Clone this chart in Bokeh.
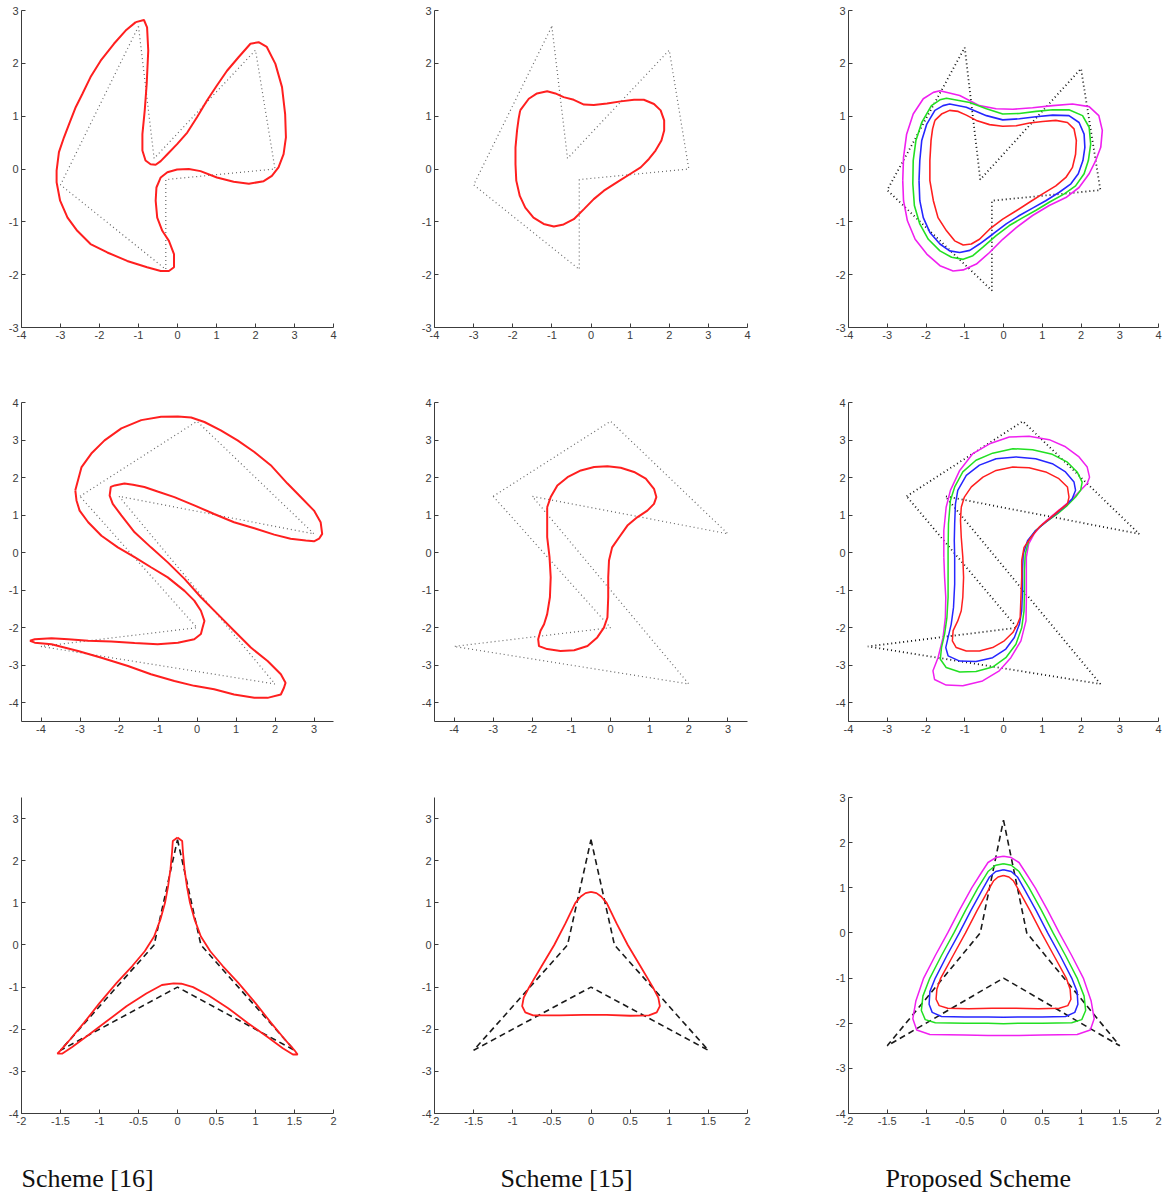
from bokeh.plotting import figure
from bokeh.layouts import column, row
from bokeh.models import FixedTicker, Range1d, Label
from bokeh.embed import file_html
from bokeh.resources import INLINE

# ---------------- data ----------------
SCHEME_LABELS = ["Scheme [16]", "Scheme [15]", "Proposed Scheme"]

# Row 1 control polygons
CTRL_R1 = [(-1, 2.7), (-0.6, 0.2), (2, 2.25), (2.5, 0), (-0.3, -0.2), (-0.3, -1.9), (-3, -0.3)]
CTRL_R1_PROP = [(-1, 2.3), (-0.6, -0.2), (2, 1.9), (2.5, -0.4), (-0.3, -0.6), (-0.3, -2.3), (-3, -0.4)]
# Row 2 control polygons
CTRL_R2 = [(-3, 1.5), (0, 3.5), (3, 0.5), (-2, 1.5), (2, -3.5), (-4, -2.5), (0, -2)]
CTRL_R2_PROP = [(-2.5, 1.5), (0.5, 3.5), (3.5, 0.5), (-1.5, 1.5), (2.5, -3.5), (-3.5, -2.5), (0.35, -2)]
# Row 3 control polygon
CTRL_R3 = [(0, 2.5), (0.3, 0), (1.5, -2.5), (0, -1), (-1.5, -2.5), (-0.3, 0)]

# Row 1 curves
R1_S16 = [(-1.07, 2.78), (-0.86, 2.82), (-0.78, 2.68), (-0.75, 2.24), (-0.79, 1.61), (-0.84, 1.11),
          (-0.90, 0.66), (-0.90, 0.35), (-0.82, 0.16), (-0.69, 0.09), (-0.56, 0.08), (-0.43, 0.15),
          (-0.26, 0.28), (-0.01, 0.47), (0.25, 0.69), (0.50, 0.98), (0.76, 1.30), (1.01, 1.58),
          (1.27, 1.86), (1.57, 2.12), (1.87, 2.37), (2.08, 2.40), (2.29, 2.31), (2.51, 1.99),
          (2.68, 1.55), (2.76, 1.04), (2.78, 0.60), (2.72, 0.28), (2.59, 0.03), (2.42, -0.13),
          (2.21, -0.23), (1.83, -0.28), (1.44, -0.24), (1.01, -0.16), (0.59, -0.04), (0.29, 0.0),
          (-0.01, -0.01), (-0.26, -0.06), (-0.43, -0.16), (-0.54, -0.35), (-0.56, -0.60), (-0.52, -0.92),
          (-0.39, -1.17), (-0.22, -1.36), (-0.09, -1.61), (-0.09, -1.86), (-0.22, -1.93), (-0.43, -1.93),
          (-0.78, -1.86), (-1.29, -1.74), (-1.80, -1.58), (-2.23, -1.42), (-2.57, -1.17), (-2.82, -0.92),
          (-3.01, -0.60), (-3.10, -0.25), (-3.10, -0.03), (-3.04, 0.32), (-2.91, 0.60), (-2.78, 0.85),
          (-2.61, 1.17), (-2.44, 1.42), (-2.23, 1.74), (-1.97, 2.05), (-1.63, 2.37), (-1.33, 2.62)]
R1_S15 = [(-1.81, 1.11), (-1.59, 1.33), (-1.38, 1.43), (-1.12, 1.47), (-0.91, 1.43), (-0.70, 1.36),
          (-0.44, 1.31), (-0.18, 1.22), (0.07, 1.21), (0.41, 1.24), (0.76, 1.28), (1.10, 1.31),
          (1.35, 1.31), (1.61, 1.23), (1.78, 1.11), (1.87, 0.92), (1.87, 0.73), (1.80, 0.54),
          (1.65, 0.35), (1.48, 0.19), (1.27, 0.03), (1.01, -0.09), (0.67, -0.25), (0.33, -0.41),
          (0.07, -0.57), (-0.18, -0.76), (-0.44, -0.95), (-0.70, -1.05), (-0.95, -1.09), (-1.21, -1.04),
          (-1.47, -0.92), (-1.68, -0.73), (-1.82, -0.51), (-1.91, -0.22), (-1.93, 0.09), (-1.93, 0.41),
          (-1.89, 0.73), (-1.85, 0.95)]
R1_RED = [(-1.77, 0.92), (-1.60, 1.04), (-1.39, 1.11), (-1.17, 1.09), (-0.96, 1.02), (-0.70, 0.92),
          (-0.36, 0.84), (-0.02, 0.81), (0.33, 0.82), (0.67, 0.87), (1.01, 0.90), (1.35, 0.92),
          (1.65, 0.88), (1.82, 0.76), (1.88, 0.54), (1.86, 0.28), (1.78, 0.03), (1.61, -0.16),
          (1.35, -0.32), (1.01, -0.47), (0.67, -0.63), (0.33, -0.79), (-0.02, -0.95), (-0.36, -1.14),
          (-0.62, -1.33), (-0.83, -1.42), (-1.04, -1.44), (-1.26, -1.36), (-1.47, -1.17), (-1.69, -0.92),
          (-1.81, -0.60), (-1.90, -0.22), (-1.90, 0.16), (-1.87, 0.54), (-1.83, 0.76)]
R1_BLUE = [(-2.18, -0.22), (-2.16, 0.16), (-2.11, 0.54), (-1.98, 0.85), (-1.77, 1.11), (-1.56, 1.20),
           (-1.39, 1.23), (-0.96, 1.17), (-0.44, 1.01), (-0.02, 0.93), (0.41, 0.95), (0.84, 0.99),
           (1.27, 1.02), (1.69, 1.01), (1.95, 0.88), (2.08, 0.66), (2.10, 0.41), (2.05, 0.16),
           (1.93, -0.09), (1.74, -0.28), (1.44, -0.44), (1.09, -0.60), (0.75, -0.74), (0.41, -0.88),
           (0.07, -1.04), (-0.27, -1.23), (-0.62, -1.42), (-0.87, -1.54), (-1.13, -1.58), (-1.39, -1.55),
           (-1.64, -1.42), (-1.90, -1.20), (-2.07, -0.92), (-2.16, -0.60)]
R1_GREEN = [(-2.34, -0.28), (-2.33, 0.16), (-2.26, 0.54), (-2.11, 0.88), (-1.86, 1.20), (-1.64, 1.31),
            (-1.47, 1.34), (-0.87, 1.26), (-0.44, 1.14), (-0.02, 1.04), (0.41, 1.05), (0.84, 1.09),
            (1.27, 1.12), (1.69, 1.12), (2.04, 1.01), (2.21, 0.79), (2.25, 0.47), (2.19, 0.16),
            (2.08, -0.09), (1.86, -0.32), (1.57, -0.47), (1.18, -0.63), (0.84, -0.78), (0.50, -0.92),
            (0.15, -1.07), (-0.19, -1.26), (-0.53, -1.48), (-0.79, -1.64), (-1.04, -1.71), (-1.34, -1.67),
            (-1.64, -1.55), (-1.94, -1.33), (-2.16, -1.04), (-2.30, -0.69)]
R1_MAGENTA = [(-2.60, -0.22), (-2.58, 0.22), (-2.50, 0.66), (-2.33, 1.04), (-2.07, 1.33), (-1.81, 1.45),
              (-1.64, 1.48), (-1.13, 1.39), (-0.62, 1.20), (-0.19, 1.14), (0.24, 1.13), (0.75, 1.16),
              (1.27, 1.20), (1.78, 1.23), (2.21, 1.18), (2.46, 1.01), (2.55, 0.73), (2.51, 0.41),
              (2.38, 0.16), (2.21, -0.09), (1.95, -0.35), (1.61, -0.54), (1.18, -0.69), (0.75, -0.88),
              (0.33, -1.11), (-0.02, -1.33), (-0.36, -1.58), (-0.70, -1.80), (-1.04, -1.91), (-1.30, -1.93),
              (-1.64, -1.83), (-1.98, -1.61), (-2.28, -1.33), (-2.48, -0.98), (-2.58, -0.60)]

# Row 2 curves
R2_S16 = [(-3.12, 1.66), (-2.96, 2.28), (-2.71, 2.64), (-2.37, 2.99), (-1.94, 3.31), (-1.43, 3.53),
          (-0.92, 3.62), (-0.49, 3.63), (-0.15, 3.60), (0.19, 3.48), (0.61, 3.26), (1.04, 2.99),
          (1.47, 2.68), (1.89, 2.33), (2.32, 1.84), (2.66, 1.48), (3.00, 1.12), (3.17, 0.81),
          (3.21, 0.50), (3.13, 0.37), (3.00, 0.30), (2.79, 0.32), (2.40, 0.37), (1.98, 0.48),
          (1.47, 0.65), (0.95, 0.81), (0.44, 1.03), (-0.07, 1.26), (-0.58, 1.48), (-1.01, 1.63),
          (-1.35, 1.75), (-1.64, 1.81), (-1.86, 1.84), (-2.11, 1.79), (-2.21, 1.75), (-2.24, 1.52),
          (-2.16, 1.30), (-1.94, 0.99), (-1.60, 0.54), (-1.18, 0.14), (-0.75, -0.26), (-0.32, -0.70),
          (0.10, -1.19), (0.53, -1.64), (0.95, -2.08), (1.38, -2.53), (1.81, -2.89), (2.15, -3.24),
          (2.27, -3.47), (2.23, -3.60), (2.15, -3.78), (1.81, -3.87), (1.47, -3.87), (0.95, -3.78),
          (0.44, -3.64), (-0.07, -3.55), (-0.58, -3.42), (-1.18, -3.24), (-1.77, -3.02), (-2.45, -2.80),
          (-3.05, -2.62), (-3.73, -2.44), (-4.16, -2.40), (-4.28, -2.35), (-4.16, -2.31), (-3.73, -2.28),
          (-3.30, -2.31), (-2.79, -2.35), (-2.20, -2.37), (-1.60, -2.41), (-1.01, -2.44), (-0.49, -2.40),
          (-0.07, -2.31), (0.10, -2.17), (0.14, -2.01), (0.19, -1.82), (0.10, -1.55), (-0.07, -1.28),
          (-0.32, -1.02), (-0.75, -0.66), (-1.18, -0.39), (-1.60, -0.12), (-2.03, 0.14), (-2.45, 0.45),
          (-2.79, 0.81), (-3.01, 1.12), (-3.09, 1.39)]
R2_S15 = [(-1.62, 1.21), (-1.53, 1.48), (-1.36, 1.79), (-1.10, 2.01), (-0.76, 2.19), (-0.42, 2.28),
          (-0.08, 2.30), (0.26, 2.26), (0.60, 2.15), (0.90, 1.97), (1.11, 1.70), (1.17, 1.48),
          (1.11, 1.30), (0.94, 1.12), (0.68, 0.94), (0.43, 0.72), (0.22, 0.41), (0.04, 0.14),
          (-0.04, -0.21), (-0.06, -0.66), (-0.06, -1.19), (-0.08, -1.73), (-0.17, -2.00), (-0.34, -2.26),
          (-0.59, -2.49), (-0.93, -2.60), (-1.28, -2.62), (-1.62, -2.57), (-1.83, -2.49), (-1.85, -2.31),
          (-1.79, -2.08), (-1.70, -1.91), (-1.62, -1.64), (-1.55, -1.19), (-1.53, -0.66), (-1.56, -0.12),
          (-1.62, 0.41), (-1.62, 0.86)]
R2_RED = [(-1.09, 1.21), (-1.01, 1.48), (-0.83, 1.75), (-0.53, 2.01), (-0.19, 2.19), (0.24, 2.28),
          (0.66, 2.26), (1.09, 2.15), (1.43, 1.97), (1.65, 1.75), (1.69, 1.48), (1.65, 1.30),
          (1.43, 1.12), (1.18, 0.90), (0.92, 0.68), (0.71, 0.41), (0.53, 0.14), (0.47, -0.21),
          (0.47, -0.66), (0.45, -1.19), (0.43, -1.73), (0.36, -1.91), (0.24, -2.13), (0.02, -2.35),
          (-0.28, -2.53), (-0.62, -2.62), (-0.96, -2.62), (-1.22, -2.53), (-1.32, -2.35), (-1.30, -2.08),
          (-1.18, -1.82), (-1.09, -1.55), (-1.05, -1.19), (-1.03, -0.66), (-1.05, -0.12), (-1.09, 0.41),
          (-1.11, 0.86)]
R2_BLUE = [(-1.26, 0.77), (-1.24, 1.30), (-1.18, 1.66), (-0.96, 2.06), (-0.62, 2.33), (-0.19, 2.50),
           (0.32, 2.55), (0.83, 2.50), (1.26, 2.37), (1.60, 2.15), (1.82, 1.88), (1.86, 1.66),
           (1.77, 1.43), (1.60, 1.25), (1.35, 1.03), (1.09, 0.81), (0.83, 0.59), (0.62, 0.32),
           (0.51, -0.04), (0.49, -0.48), (0.49, -1.02), (0.47, -1.55), (0.41, -1.91), (0.28, -2.26),
           (0.06, -2.57), (-0.28, -2.80), (-0.71, -2.90), (-1.13, -2.89), (-1.43, -2.75), (-1.49, -2.53),
           (-1.43, -2.26), (-1.35, -1.91), (-1.29, -1.46), (-1.26, -0.84), (-1.26, -0.12), (-1.27, 0.32)]
R2_GREEN = [(-1.43, 0.05), (-1.42, 0.77), (-1.37, 1.39), (-1.26, 1.75), (-1.05, 2.15), (-0.71, 2.46),
            (-0.28, 2.65), (0.24, 2.77), (0.75, 2.74), (1.26, 2.62), (1.65, 2.41), (1.90, 2.15),
            (2.03, 1.88), (1.99, 1.66), (1.86, 1.48), (1.65, 1.26), (1.39, 1.03), (1.09, 0.81),
            (0.83, 0.59), (0.65, 0.32), (0.56, -0.04), (0.54, -0.48), (0.54, -1.02), (0.53, -1.55),
            (0.47, -2.00), (0.32, -2.44), (0.06, -2.80), (-0.28, -3.05), (-0.71, -3.17), (-1.13, -3.18),
            (-1.48, -3.06), (-1.63, -2.84), (-1.60, -2.53), (-1.52, -2.17), (-1.46, -1.73), (-1.43, -1.19),
            (-1.43, -0.57)]
R2_MAGENTA = [(-1.54, -0.12), (-1.54, 0.59), (-1.48, 1.21), (-1.37, 1.66), (-1.13, 2.19), (-0.79, 2.64),
              (-0.36, 2.90), (0.15, 3.08), (0.66, 3.10), (1.18, 3.01), (1.60, 2.82), (1.95, 2.55),
              (2.16, 2.28), (2.22, 2.01), (2.16, 1.84), (1.99, 1.66), (1.77, 1.43), (1.52, 1.21),
              (1.26, 0.99), (1.01, 0.77), (0.79, 0.50), (0.65, 0.23), (0.59, -0.12), (0.59, -0.66),
              (0.59, -1.28), (0.58, -1.82), (0.45, -2.35), (0.19, -2.80), (-0.11, -3.15), (-0.54, -3.42),
              (-1.05, -3.55), (-1.48, -3.53), (-1.78, -3.38), (-1.82, -3.15), (-1.69, -2.80), (-1.56, -2.26),
              (-1.50, -1.73), (-1.49, -1.19), (-1.52, -0.66)]

# Row 3 curves
R3_S16 = [(0, 2.55), (0.06, 2.47), (0.07, 2.2), (0.09, 1.8), (0.12, 1.4), (0.16, 1.0), (0.22, 0.6),
          (0.3, 0.2), (0.42, -0.15), (0.58, -0.5), (0.78, -0.9), (1.0, -1.38), (1.2, -1.85),
          (1.38, -2.25), (1.5, -2.5), (1.54, -2.6), (1.48, -2.6), (1.35, -2.45), (1.15, -2.18),
          (0.9, -1.85), (0.65, -1.5), (0.4, -1.2), (0.2, -1.0), (0.05, -0.92), (-0.05, -0.91),
          (-0.2, -0.95), (-0.4, -1.15), (-0.65, -1.45), (-0.9, -1.8), (-1.15, -2.15), (-1.35, -2.42),
          (-1.48, -2.58), (-1.54, -2.58), (-1.5, -2.5), (-1.38, -2.25), (-1.2, -1.85), (-1.0, -1.38),
          (-0.78, -0.9), (-0.58, -0.5), (-0.42, -0.15), (-0.3, 0.2), (-0.22, 0.6), (-0.16, 1.0),
          (-0.12, 1.4), (-0.09, 1.8), (-0.07, 2.2), (-0.06, 2.47)]
R3_S15 = [(0, 1.26), (0.07, 1.23), (0.13, 1.15), (0.2, 1.0), (0.33, 0.5), (0.47, 0.0), (0.63, -0.5),
          (0.79, -1.0), (0.86, -1.25), (0.88, -1.45), (0.84, -1.6), (0.74, -1.67), (0.5, -1.68),
          (0.2, -1.66), (-0.1, -1.66), (-0.4, -1.67), (-0.74, -1.67), (-0.84, -1.6), (-0.88, -1.45),
          (-0.86, -1.25), (-0.79, -1.0), (-0.63, -0.5), (-0.47, 0.0), (-0.33, 0.5), (-0.2, 1.0),
          (-0.13, 1.15), (-0.07, 1.23)]
R3_RED = [(0, 1.27), (0.07, 1.24), (0.13, 1.15), (0.18, 1.0), (0.34, 0.5), (0.49, 0.0), (0.65, -0.5),
          (0.81, -1.0), (0.86, -1.25), (0.87, -1.47), (0.83, -1.61), (0.72, -1.67), (0.45, -1.68),
          (0.15, -1.67), (-0.15, -1.67), (-0.45, -1.68), (-0.72, -1.67), (-0.83, -1.61), (-0.87, -1.47),
          (-0.86, -1.25), (-0.81, -1.0), (-0.65, -0.5), (-0.49, 0.0), (-0.34, 0.5), (-0.18, 1.0),
          (-0.13, 1.15), (-0.07, 1.24)]
R3_BLUE = [(0, 1.40), (0.1, 1.36), (0.18, 1.24), (0.26, 1.0), (0.42, 0.5), (0.57, 0.0), (0.73, -0.5),
           (0.88, -1.0), (0.95, -1.3), (0.96, -1.58), (0.92, -1.76), (0.8, -1.85), (0.5, -1.86),
           (0.2, -1.86), (0.0, -1.87), (-0.2, -1.86), (-0.5, -1.86), (-0.8, -1.85), (-0.92, -1.76),
           (-0.96, -1.58), (-0.95, -1.3), (-0.88, -1.0), (-0.73, -0.5), (-0.57, 0.0), (-0.42, 0.5),
           (-0.26, 1.0), (-0.18, 1.24), (-0.1, 1.36)]
R3_GREEN = [(0, 1.53), (0.1, 1.50), (0.2, 1.36), (0.33, 1.0), (0.49, 0.5), (0.64, 0.0), (0.80, -0.5),
            (0.95, -1.0), (1.04, -1.4), (1.06, -1.72), (1.01, -1.92), (0.88, -1.99), (0.5, -2.0),
            (0.2, -2.0), (0.0, -2.01), (-0.2, -2.0), (-0.5, -2.0), (-0.88, -1.99), (-1.01, -1.92),
            (-1.06, -1.72), (-1.04, -1.4), (-0.95, -1.0), (-0.80, -0.5), (-0.64, 0.0), (-0.49, 0.5),
            (-0.33, 1.0), (-0.2, 1.36), (-0.1, 1.50)]
R3_MAGENTA = [(0, 1.70), (0.1, 1.67), (0.2, 1.56), (0.28, 1.35), (0.41, 1.0), (0.57, 0.5), (0.72, 0.0),
              (0.88, -0.5), (1.03, -1.0), (1.13, -1.5), (1.17, -1.9), (1.12, -2.15), (0.95, -2.25),
              (0.5, -2.26), (0.2, -2.27), (0.0, -2.27), (-0.2, -2.27), (-0.5, -2.26), (-0.95, -2.25),
              (-1.12, -2.15), (-1.17, -1.9), (-1.13, -1.5), (-1.03, -1.0), (-0.88, -0.5), (-0.72, 0.0),
              (-0.57, 0.5), (-0.41, 1.0), (-0.28, 1.35), (-0.2, 1.56), (-0.1, 1.67)]

# axis ranges and ticks
R1_X = (-4, 4); R1_Y = (-3, 3)
R1_XT = [-4, -3, -2, -1, 0, 1, 2, 3, 4]; R1_YT = [-3, -2, -1, 0, 1, 2, 3]
R2_X = (-4.5, 3.5); R2_X_PROP = (-4, 4); R2_Y = (-4.5, 4)
R2_XT = [-4, -3, -2, -1, 0, 1, 2, 3]; R2_XT_PROP = [-4, -3, -2, -1, 0, 1, 2, 3, 4]
R2_YT = [-4, -3, -2, -1, 0, 1, 2, 3, 4]
R3_X = (-2, 2); R3_Y = (-4, 3.5); R3_Y_PROP = (-4, 3)
R3_XT = [-2, -1.5, -1, -0.5, 0, 0.5, 1, 1.5, 2]; R3_YT = [-4, -3, -2, -1, 0, 1, 2, 3]

# ---------------- styles ----------------
AX_COL = "#3c3c3c"
RED = "#ff1f1f"; BLUE = "#2626ff"; GREEN = "#22e022"; MAGENTA = "#f020f0"

# column / row geometry (frame sizes and borders, in pixels)
COLS = [dict(fw=312, bl=21, br=50), dict(fw=313, bl=51, br=50), dict(fw=310, bl=51, br=4)]
ROWS = [dict(fh=317, bt=10, bb=37), dict(fh=319, bt=38, bb=38), dict(fh=316, bt=38, bb=20)]


def fmt(t):
    return "%g" % t


def make_fig(ci, ri, xr, yr, xt, yt):
    c = COLS[ci]; r = ROWS[ri]
    p = figure(frame_width=c["fw"], frame_height=r["fh"],
               x_range=Range1d(*xr), y_range=Range1d(*yr),
               toolbar_location=None, output_backend="svg",
               min_border_left=c["bl"], min_border_right=c["br"],
               min_border_top=r["bt"], min_border_bottom=r["bb"])
    p.grid.visible = False
    p.outline_line_color = None
    p.background_fill_color = "white"
    p.border_fill_color = "white"
    for ax, ticks in ((p.xaxis[0], xt), (p.yaxis[0], yt)):
        ax.ticker = FixedTicker(ticks=ticks)
        ax.major_label_overrides = {t: fmt(t) for t in ticks}
        ax.major_tick_in = 4
        ax.major_tick_out = 0
        ax.minor_tick_line_color = None
        ax.axis_line_color = AX_COL
        ax.major_tick_line_color = AX_COL
        ax.major_label_text_font = "Liberation Sans"
        ax.major_label_text_font_size = "11px"
        ax.major_label_text_color = AX_COL
        ax.major_label_standoff = 3
    return p


def closed(pts):
    xs = [q[0] for q in pts] + [pts[0][0]]
    ys = [q[1] for q in pts] + [pts[0][1]]
    return xs, ys


def poly(p, pts, kind, dark=False):
    xs, ys = closed(pts)
    if kind == "dot":
        if dark:
            p.line(xs, ys, line_color="#111111", line_width=1.8, line_dash="1 3")
        else:
            p.line(xs, ys, line_color="#666666", line_width=1.2, line_dash="1 3")
    else:
        p.line(xs, ys, line_color="#1a1a1a", line_width=1.6, line_dash="6 4")


def curve(p, pts, color, w):
    xs, ys = closed(pts)
    p.line(xs, ys, line_color=color, line_width=w)


# Row 1
p11 = make_fig(0, 0, R1_X, R1_Y, R1_XT, R1_YT)
poly(p11, CTRL_R1, "dot"); curve(p11, R1_S16, RED, 2)
p12 = make_fig(1, 0, R1_X, R1_Y, R1_XT, R1_YT)
poly(p12, CTRL_R1, "dot"); curve(p12, R1_S15, RED, 2)
p13 = make_fig(2, 0, R1_X, R1_Y, R1_XT, R1_YT)
poly(p13, CTRL_R1_PROP, "dot", dark=True)
for pts, col in ((R1_MAGENTA, MAGENTA), (R1_GREEN, GREEN), (R1_BLUE, BLUE), (R1_RED, RED)):
    curve(p13, pts, col, 1.6)

# Row 2
p21 = make_fig(0, 1, R2_X, R2_Y, R2_XT, R2_YT)
poly(p21, CTRL_R2, "dot"); curve(p21, R2_S16, RED, 2)
p22 = make_fig(1, 1, R2_X, R2_Y, R2_XT, R2_YT)
poly(p22, CTRL_R2, "dot"); curve(p22, R2_S15, RED, 2)
p23 = make_fig(2, 1, R2_X_PROP, R2_Y, R2_XT_PROP, R2_YT)
poly(p23, CTRL_R2_PROP, "dot", dark=True)
for pts, col in ((R2_MAGENTA, MAGENTA), (R2_GREEN, GREEN), (R2_BLUE, BLUE), (R2_RED, RED)):
    curve(p23, pts, col, 1.5)

# Row 3
p31 = make_fig(0, 2, R3_X, R3_Y, R3_XT, R3_YT)
poly(p31, CTRL_R3, "dash"); curve(p31, R3_S16, RED, 1.8)
p32 = make_fig(1, 2, R3_X, R3_Y, R3_XT, R3_YT)
poly(p32, CTRL_R3, "dash"); curve(p32, R3_S15, RED, 1.8)
p33 = make_fig(2, 2, R3_X, R3_Y_PROP, R3_XT, R3_YT)
poly(p33, CTRL_R3, "dash")
for pts, col in ((R3_MAGENTA, MAGENTA), (R3_GREEN, GREEN), (R3_BLUE, BLUE), (R3_RED, RED)):
    curve(p33, pts, col, 1.5)

# caption row
LABEL_W = 1160
LABEL_H = 63
cap = figure(width=LABEL_W, height=LABEL_H, x_range=Range1d(0, LABEL_W), y_range=Range1d(0, LABEL_H),
             toolbar_location=None, output_backend="svg", x_axis_type=None, y_axis_type=None,
             min_border=0, title=None)
cap.grid.visible = False
cap.outline_line_color = None
for txt, xpos in zip(SCHEME_LABELS, (21, 500, 885)):
    cap.add_layout(Label(x=xpos, y=18, x_units="screen", y_units="screen", text=txt,
                         text_font="Liberation Serif", text_font_size="26px",
                         text_color="#111111", text_baseline="alphabetic"))

layout = column(row(p11, p12, p13), row(p21, p22, p23), row(p31, p32, p33), cap)

open("out.html", "w").write(file_html(layout, INLINE))
